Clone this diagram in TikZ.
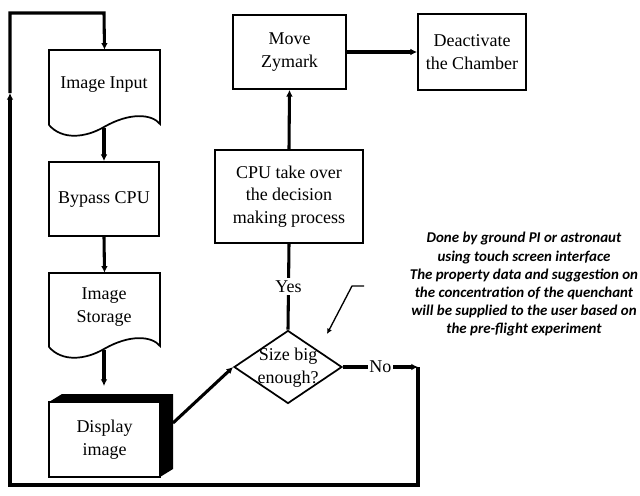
\documentclass[tikz,border=0pt]{standalone}
\usepackage{fontspec}
\setmainfont{Liberation Serif}
\newfontfamily\notefont{Carlito}
\usetikzlibrary{arrows.meta,shapes.geometric}
\begin{document}
\begin{tikzpicture}[x=0.75pt,y=-0.75pt,
  box/.style={draw,line width=1.3pt,rectangle,inner sep=0pt,align=center,
    font=\fontsize{13.5}{17}\selectfont},
  plain/.style={inner sep=0pt,align=center,font=\fontsize{13.5}{17}\selectfont},
  conn/.style={line width=2.3pt},
  arr/.style={line width=2.3pt,-{Latex[length=5pt,width=5pt]}},
  note/.style={align=center,inner sep=0pt,font=\notefont\bfseries\itshape\fontsize{11.2}{13.65}\selectfont}]
\useasboundingbox (0,0) rectangle (640,496);

% Image Input (document shape)
\node[plain,minimum width=82.5pt,minimum height=56.25pt] (input) at (104.5,87.5) {};
\draw[line width=1.3pt] (49,125) -- (49,50) -- (160,50) -- (160,124)
  .. controls (152,114) and (130,112) .. (104,127)
  .. controls (85,138) and (62,140) .. (49,125);
\node[plain] at (104,85) {Image Input};
\coordinate (inb) at (104,128);

% Bypass CPU
\node[box,minimum width=82.5pt,minimum height=55.5pt] (bypass) at (104,199) {Bypass CPU};

% Image Storage (document shape)
\node[plain,minimum width=82.5pt,minimum height=55.5pt] (storage) at (104.5,310) {};
\draw[line width=1.3pt] (49,347) -- (49,273) -- (160,273) -- (160,346)
  .. controls (152,336) and (130,334) .. (104,349)
  .. controls (85,360) and (62,362) .. (49,347);
\node[plain] at (104,307) {Image\\Storage};
\coordinate (stb) at (104,350);

% Display image (3D box)
\fill (49,402) -- (62,394) -- (173,394) -- (173,469) -- (160,477) -- (160,402) -- cycle;
\node[box,fill=white,minimum width=83.25pt,minimum height=56.25pt] (disp) at (104.5,439.5) {Display\\image};
\coordinate (dispr) at (173,423);
\coordinate (dispt) at (104,386);

% Diamond
\node[draw,line width=1.3pt,diamond,minimum width=81pt,minimum height=54.75pt,inner sep=0pt] (dia) at (288,367) {};
\node[plain] at (288,368) {Size big\\enough?};

% CPU
\node[box,minimum width=111pt,minimum height=69.75pt] (cpu) at (289,196.5) {CPU take over\\the decision\\making process};

% Move Zymark
\node[box,minimum width=84.75pt,minimum height=55.5pt] (move) at (289.5,52) {Move\\Zymark};

% Deactivate
\node[box,minimum width=81pt,minimum height=57pt] (deact) at (472,52) {Deactivate\\the Chamber};

% Note
\node[note] (note) at (524,284.5) {Done by ground PI or astronaut\\using touch screen interface\\The property data and suggestion on\\the concentration of the quenchant\\will be supplied to the user based on\\the pre-flight experiment};
\coordinate (ld0) at (364,286);
\coordinate (ld1) at (352,286);
\coordinate (ld2) at (327,334);
\draw[line width=1pt,-{Latex[length=4pt,width=4pt]}] (ld0) -- (ld1) -- (ld2);

% connectors
\draw[arr] (inb) -- (bypass.north);
\draw[arr] (bypass.south) -- (storage.north);
\draw[arr] (stb) -- (dispt);
\draw[arr] (dispr) -- (dia.west);
\draw[conn] (cpu.south) -- node[plain,fill=white,inner sep=2pt] {Yes} (dia.north);
\draw[arr] (cpu.north) -- (move.south);
\draw[arr] (move.east) -- (deact.west);

\coordinate (c1) at (418,367);
\coordinate (c2) at (418,485);
\coordinate (c3) at (10,485);
\coordinate (c4) at (10,93);
\coordinate (c5) at (10,13);
\coordinate (c6) at (104,13);
\draw[arr] (dia.east) -- node[plain,fill=white,inner sep=1pt] {No} (c1);
\draw[arr] (c1) -- (c2) -- (c3) -- (c4);
\draw[arr] (c4) -- (c5) -- (c6) -- (input.north);
\end{tikzpicture}
\end{document}
